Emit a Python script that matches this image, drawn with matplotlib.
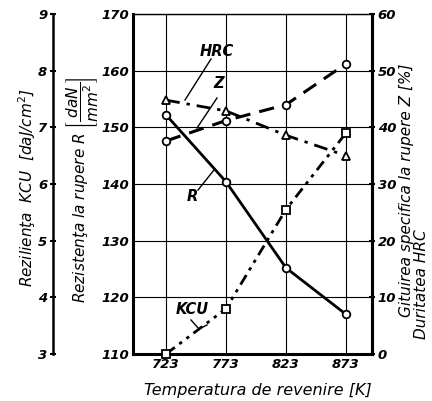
import matplotlib
matplotlib.use("Agg")
import matplotlib.pyplot as plt

# ---- data ----
temps = [723, 773, 823, 873]
R_vals = [152.2, 140.4, 125.2, 117.0]      # daN/mm2, left inner axis
Z_vals = [37.6, 41.2, 44.0, 51.2]          # %, right axis
HRC_vals = [44.8, 42.9, 38.6, 35.0]        # HRC, right axis
KCU_vals = [3.0, 3.8, 5.55, 6.9]           # daJ/cm2, left outer axis

R_ticks = [110, 120, 130, 140, 150, 160, 170]
KCU_ticks = [3, 4, 5, 6, 7, 8, 9]
right_ticks = [0, 10, 20, 30, 40, 50, 60]

W, H = 432, 401
fig = plt.figure(figsize=(W / 100, H / 100), dpi=100)
L, Rr, B, T = 133, 372, 354, 14
ax = fig.add_axes([L / W, 1 - B / H, (Rr - L) / W, (B - T) / H])

tickfont = dict(family="DejaVu Sans", style="italic", weight="bold", size=9.5)

ax.set_xlim(695.5, 894.7)
ax.set_ylim(110, 170)
ax.set_xticks(temps)
ax.set_yticks(R_ticks)
ax.set_xticklabels([str(t) for t in temps], **tickfont)
ax.set_yticklabels([str(t) for t in R_ticks], **tickfont)
ax.grid(True, color="black", lw=0.8)
ax.tick_params(length=0, pad=3)
for s in ["left", "bottom", "right"]:
    ax.spines[s].set_linewidth(2.2)
ax.spines["top"].set_linewidth(1.0)

axr = ax.twinx()
axr.set_ylim(0, 60)
axr.set_yticks(right_ticks)
axr.set_yticklabels([str(t) for t in right_ticks], **tickfont)
axr.tick_params(length=4, width=1.5, direction="inout", pad=2)
axr.spines["right"].set_linewidth(2.2)
for s in ["left", "top", "bottom"]:
    axr.spines[s].set_visible(False)

axk = ax.twinx()
axk.set_ylim(3, 9)
axk.spines["left"].set_position(("axes", -80 / (Rr - L)))
axk.spines["left"].set_visible(True)
axk.spines["left"].set_linewidth(1.8)
for s in ["right", "top", "bottom"]:
    axk.spines[s].set_visible(False)
axk.yaxis.set_ticks_position("left")
axk.yaxis.set_label_position("left")
axk.set_yticks(KCU_ticks)
axk.set_yticklabels([str(t) for t in KCU_ticks], **tickfont)
axk.tick_params(length=4, width=1.5, direction="inout", pad=2)

mk = dict(markersize=5.5, markerfacecolor="white", markeredgecolor="black",
          markeredgewidth=1.3, color="black")
ax.plot(temps, R_vals, "-", marker="o", lw=2.0, **mk, clip_on=False, zorder=5)
axr.plot(temps, Z_vals, marker="o", lw=2.2, dashes=(5, 3), **mk, clip_on=False)
axr.plot(temps, HRC_vals, marker="^", lw=2.0, dashes=(5, 2.5, 1.2, 2.5), **mk, clip_on=False)
axk.plot(temps, KCU_vals, marker="s", lw=2.0, dashes=(4, 2, 1.2, 2, 1.2, 2), **mk, clip_on=False)

# annotation labels (figure pixel coords)
def px(x, y):
    return (x / W, 1 - y / H)

lab = dict(style="italic", weight="bold", family="DejaVu Sans", size=10.5,
           ha="center", va="center")
fig.text(*px(217, 51), "HRC", **lab)
fig.text(*px(219, 84), "Z", **lab)
fig.text(*px(192, 197), "R", **lab)
fig.text(*px(192, 309), "KCU", **lab)
for pts in [[(211, 59), (185, 100)], [(217, 98), (197, 128)],
            [(198, 190), (214, 170)], [(191, 320), (199, 329), (207, 325)]]:
    xs = [p[0] / W for p in pts]
    ys = [1 - p[1] / H for p in pts]
    fig.add_artist(plt.Line2D(xs, ys, color="black", lw=1.0))

side = dict(family="DejaVu Sans", style="italic", size=11, rotation=90,
            ha="center", va="center")
fig.text(*px(27, 188), "Rezilienţa  KCU  [daJ/cm$^2$]", **side)
fig.text(*px(82, 190), r"Rezistenţa la rupere R $\left[\dfrac{daN}{mm^2}\right]$", **side)
fig.text(*px(406, 190), "Gituirea specifica la rupere Z [%]", **side)
fig.text(*px(422, 284), "Duritatea HRC", **side)
fig.text(*px(258, 390), "Temperatura de revenire [K]", family="DejaVu Sans",
         style="italic", size=11.5, ha="center", va="center")

fig.savefig("out.png", dpi=100)
